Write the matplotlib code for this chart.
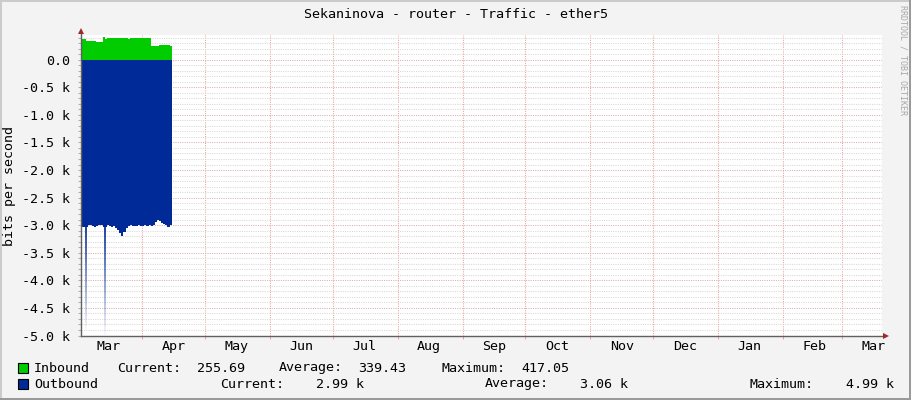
import numpy as np
import pandas as pd
import matplotlib
matplotlib.use('Agg')
import matplotlib.pyplot as plt
import matplotlib.dates as mdates
from matplotlib.ticker import MultipleLocator, FuncFormatter, FixedLocator, NullFormatter
from matplotlib.patches import Rectangle
from matplotlib.collections import LineCollection

# dados (bits por segundo, media diaria)
titulo = 'Sekaninova - router - Traffic - ether5'
dias = pd.date_range('2024-03-03', periods=43, freq='D')
inbound = [370, 370, 340, 340, 340, 345, 340, 330, 322, 330,
           417, 380, 390, 390, 400, 390, 390, 390, 400, 390,
           390, 390, 380, 390, 390, 390, 390, 400, 390, 390,
           390, 400, 390, 250, 250, 250, 252, 262, 262, 262,
           262, 262, 256]
outbound = [3030, 3040, 3040, 3000, 3000, 3020, 3040, 3010, 3000, 3000,
            3040, 3040, 3000, 3020, 3030, 3020, 3050, 3080, 3150, 3190,
            3130, 3050, 3020, 3000, 3020, 3010, 3020, 3000, 3020, 3010,
            2990, 3020, 3000, 3020, 2990, 2950, 2910, 2930, 2960, 2970,
            3000, 3030, 2990]
picos_datas = pd.to_datetime(['2024-03-05 06:00', '2024-03-14 06:00'])
picos_valores = [4900, 4990]
meses = ['Mar', 'Apr', 'May', 'Jun', 'Jul', 'Aug', 'Sep', 'Oct', 'Nov', 'Dec', 'Jan', 'Feb', 'Mar']

legenda_in = [('Current:', 117, 'left'), ('255.69', 197, 'left'), ('Average:', 279, 'left'),
              ('339.43', 358, 'left'), ('Maximum:', 441, 'left'), ('417.05', 521, 'left')]
legenda_out = [('Current:', 220, 'left'), ('2.99 k', 316, 'left'), ('Average:', 485, 'left'),
               ('3.06 k', 580, 'left'), ('Maximum:', 750, 'left'), ('4.99 k', 846, 'left')]

verde = '#00CC00'
azul = '#002A97'
fundo = '#F3F3F3'
mono = 'DejaVu Sans Mono'
fs = 9.6

W, H = 911, 400
fig = plt.figure(figsize=(W / 100, H / 100), dpi=100, facecolor=fundo)


def px(x, y):
    return x / W, 1 - y / H


# area do grafico em pixels: x 81..882, y 35..335.5
ax = fig.add_axes([81 / W, 1 - 335.5 / H, 801 / W, 300.5 / H])
ax.set_facecolor('white')

x0 = pd.Timestamp('2024-03-02 17:30')
x1 = pd.Timestamp('2025-03-20 06:00')
ax.set_xlim(x0, x1)
ax.set_ylim(-5000, 448)

# series em degrau
bordas = list(dias) + [dias[-1] + pd.Timedelta(days=1)]
y_in = np.array(inbound + [inbound[-1]], dtype=float)
y_out = -np.array(outbound + [outbound[-1]], dtype=float)
ax.fill_between(bordas, 0, y_in, step='post', color=verde, lw=0, zorder=3)
ax.fill_between(bordas, 0, y_out, step='post', color=azul, lw=0, zorder=3)

# picos finos que somem em gradiente
for d, v in zip(picos_datas, picos_valores):
    xd = mdates.date2num(d)
    ys = np.linspace(-2950, -v, 31)
    segs = [[(xd, ys[k]), (xd, ys[k + 1])] for k in range(30)]
    alphas = np.linspace(1.0, 0.04, 30)
    cores = [(0.0, 0.165, 0.59, a) for a in alphas]
    ax.add_collection(LineCollection(segs, colors=cores, linewidths=1.3, zorder=3))

# grade
ax.yaxis.set_major_locator(MultipleLocator(500))
ax.yaxis.set_minor_locator(MultipleLocator(100))
ax.yaxis.set_major_formatter(FuncFormatter(
    lambda v, p: '0.0' if abs(v) < 1e-6 else f'{v / 1000:.1f} k'))
ax.grid(which='minor', axis='y', color='#D8D8D8', ls=(0, (1, 1.2)), lw=0.75, zorder=1)
ax.grid(which='major', axis='y', color='#D8B0B0', ls=(0, (1, 1.2)), lw=0.75, zorder=1)

inicio_mes = pd.date_range('2024-04-01', '2025-03-01', freq='MS')
meio_mes = pd.date_range('2024-03-01', '2025-03-01', freq='MS') + pd.Timedelta(days=15)
ax.xaxis.set_major_locator(FixedLocator(mdates.date2num(inicio_mes)))
ax.xaxis.set_major_formatter(NullFormatter())
ax.xaxis.set_minor_locator(FixedLocator(mdates.date2num(meio_mes)))
ax.set_xticklabels(meses, minor=True)
ax.grid(which='major', axis='x', color='#F0A0A0', ls=(0, (1, 1.2)), lw=0.75, zorder=1)

ax.tick_params(axis='x', which='major', length=2.2, color='#F0A0A0', width=0.75)
ax.tick_params(axis='x', which='minor', length=0, pad=3.5, labelsize=fs)
ax.tick_params(axis='y', which='both', length=2.2, color='#B0B0B0', width=0.75, pad=5.5, labelsize=fs)
for lab in ax.get_xticklabels(minor=True) + ax.get_yticklabels():
    lab.set_fontfamily(mono)

for s in ax.spines.values():
    s.set_visible(False)

# eixos com setas
cor_eixo = '#606060'
cor_seta = '#A02828'
ax.plot([0, 0], [0, 1.01], transform=ax.transAxes, color=cor_eixo, lw=1, clip_on=False, zorder=5)
ax.plot([0, 1.004], [0, 0], transform=ax.transAxes, color=cor_eixo, lw=1, clip_on=False, zorder=5)
ax.plot([0], [1.0 + 4.5 / 300.5], marker='^', ms=5, color=cor_seta, transform=ax.transAxes,
        clip_on=False, zorder=6, markeredgewidth=0)
ax.plot([1.0 + 4.5 / 801], [0], marker='>', ms=5, color=cor_seta, transform=ax.transAxes,
        clip_on=False, zorder=6, markeredgewidth=0)

# textos
fig.text(*px(455.5, 14), titulo, ha='center', va='center', family=mono, size=fs)
fig.text(*px(10, 186), 'bits per second', ha='center', va='center', rotation=90,
         family=mono, size=fs)
fig.text(*px(903, 5), 'RRDTOOL / TOBI OETIKER', ha='center', va='top', rotation=270,
         family=mono, size=6, color='#A8A8A8')

# legenda
for yy, cor, nome, itens in [(368, verde, 'Inbound', legenda_in),
                             (384, azul, 'Outbound', legenda_out)]:
    fig.patches.append(Rectangle(px(17.5, yy + 5), 10 / W, 10 / H, transform=fig.transFigure,
                                 facecolor=cor, edgecolor='black', lw=0.8))
    fig.text(*px(34, yy), nome, ha='left', va='center', family=mono, size=fs)
    for txt, xx, al in itens:
        fig.text(*px(xx, yy), txt, ha=al, va='center', family=mono, size=fs)

# moldura
fig.patches.append(Rectangle((0, 1 - 2 / H), 1, 2 / H, transform=fig.transFigure, color='#CBCBCB', lw=0))
fig.patches.append(Rectangle((0, 0), 2 / W, 1, transform=fig.transFigure, color='#CBCBCB', lw=0))
fig.patches.append(Rectangle((0, 0), 1, 2 / H, transform=fig.transFigure, color='#9A9A9A', lw=0))
fig.patches.append(Rectangle((1 - 2 / W, 0), 2 / W, 1, transform=fig.transFigure, color='#9A9A9A', lw=0))

fig.savefig('out.png', dpi=100, facecolor=fundo)
